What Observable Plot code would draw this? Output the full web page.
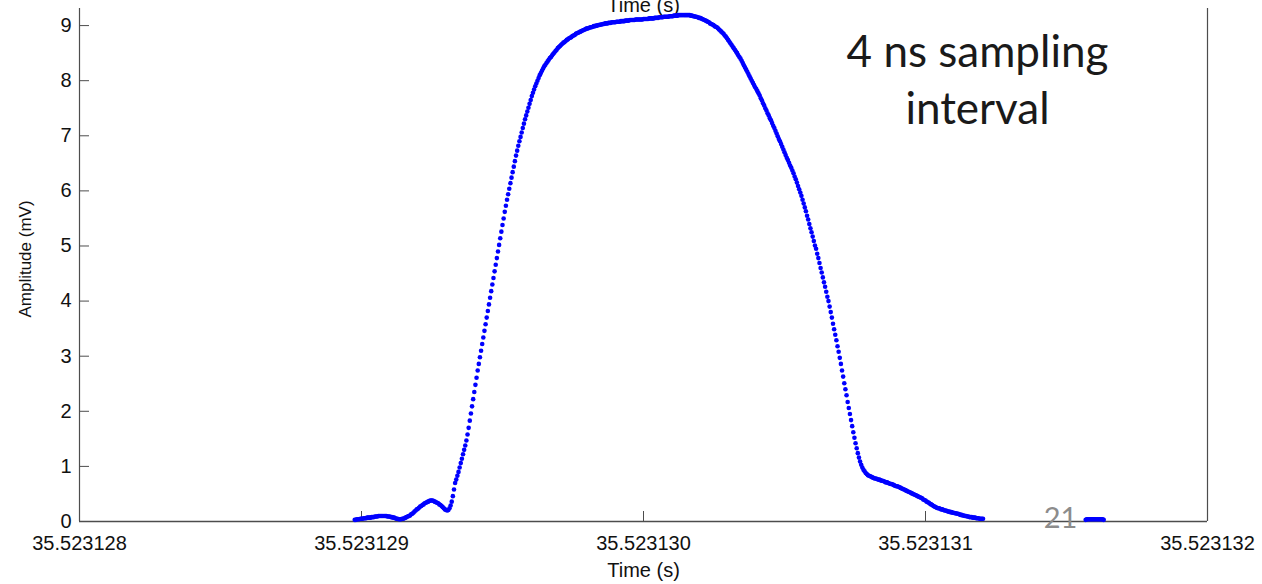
<!DOCTYPE html>
<html>
<head>
<meta charset="utf-8">
<script src="https://cdn.jsdelivr.net/npm/d3@7"></script>
<script src="https://cdn.jsdelivr.net/npm/@observablehq/plot@0.6"></script>
<style>
  html, body { margin: 0; padding: 0; background: #ffffff; }
  #chart { width: 1262px; height: 584px; overflow: hidden; }
</style>
</head>
<body>
<div id="chart"></div>
<script>
// Digitizer record of a single pulse; time is in ns after 35.523128 s.
const sampleIntervalNs = 4;

// Main pulse, first sample at 976 ns (amplitude in mV)
const pulseStartNs = 976;
const pulseAmplitude = [
  0.03,0.03,0.04,0.04,0.04,0.05,0.05,0.05,0.06,0.06,0.06,0.07,0.07,0.07,0.07,
  0.08,0.08,0.08,0.09,0.09,0.09,0.10,0.10,0.10,0.10,0.10,0.10,
  0.10,0.10,0.09,0.09,0.09,0.08,0.08,0.07,0.07,0.06,0.05,0.05,0.04,0.04,0.04,
  0.05,0.05,0.06,0.07,0.08,0.09,0.10,0.11,
  0.13,0.14,0.16,0.18,0.20,0.22,0.23,0.25,0.27,
  0.28,0.30,0.31,0.33,0.34,0.35,0.36,0.37,0.38,0.38,
  0.38,0.37,0.36,0.35,0.34,0.33,0.31,0.30,0.28,0.26,0.24,0.22,0.21,0.20,
  0.21,0.24,0.29,0.36,0.46,0.58,
  0.70,0.76,0.83,0.90,0.98,1.06,1.14,1.22,1.30,1.38,1.47,
  1.58,1.70,1.83,1.96,2.09,2.22,2.35,2.48,2.61,2.74,2.86,2.98,3.10,3.22,3.34,3.46,3.58,3.70,
  3.82,3.94,4.06,4.18,4.30,4.42,4.54,4.66,4.78,4.90,5.02,5.14,5.26,5.38,5.50,5.62,5.73,
  5.84,5.94,6.04,6.14,6.24,6.34,6.44,6.54,6.64,6.73,
  6.82,6.90,6.98,7.06,7.14,7.22,7.30,7.37,7.44,7.51,7.58,7.65,7.72,7.78,
  7.84,7.90,7.95,8.00,8.05,8.10,8.14,8.18,8.22,8.26,8.29,8.32,8.35,8.38,8.41,
  8.43,8.46,8.49,8.51,8.54,8.56,8.59,8.61,8.63,8.65,8.67,8.69,8.70,8.72,8.74,8.75,8.77,8.78,
  8.79,8.81,8.82,8.83,8.85,8.86,8.87,8.88,8.89,8.90,8.91,8.92,8.93,8.94,8.95,8.95,8.96,8.97,
  8.97,8.98,8.99,8.99,9.00,9.00,9.01,9.01,9.02,9.02,9.03,9.03,9.04,9.04,9.04,9.05,9.05,9.05,9.06,9.06,9.06,9.06,9.07,9.07,
  9.07,9.07,9.08,9.08,9.08,9.08,9.09,9.09,9.09,9.09,9.10,9.10,9.10,9.10,9.10,9.11,9.11,9.11,9.11,9.11,
  9.11,9.11,9.12,9.12,9.12,9.12,9.12,9.13,9.13,9.13,9.13,9.13,9.14,9.14,9.14,9.14,9.15,9.15,9.15,9.15,9.16,9.16,9.16,9.16,9.16,9.17,9.17,
  9.17,9.17,9.18,9.18,9.18,9.18,9.19,9.19,9.19,9.19,9.19,9.19,9.19,9.19,9.19,9.19,9.19,9.18,
  9.18,9.17,9.17,9.16,9.16,9.15,9.14,9.14,9.13,9.12,9.11,9.10,9.09,9.08,9.07,9.06,9.04,9.03,9.02,9.01,8.99,8.98,8.97,
  8.95,8.93,8.91,8.89,8.87,8.85,8.82,8.80,8.77,8.74,8.71,8.68,8.65,8.62,8.59,8.56,8.53,8.50,8.46,8.43,8.40,
  8.36,8.32,8.28,8.24,8.20,8.16,8.12,8.08,8.04,8.00,7.96,7.92,7.88,7.85,7.81,
  7.77,7.73,7.68,7.64,7.59,7.55,7.50,7.46,7.41,7.37,7.32,
  7.28,7.23,7.18,7.14,7.09,7.04,6.99,6.94,6.90,6.85,6.80,6.75,6.70,6.65,6.60,6.56,6.51,6.46,
  6.42,6.37,6.32,6.26,6.21,6.15,6.09,6.03,5.97,
  5.91,5.84,5.77,5.70,5.63,5.55,5.48,5.40,5.32,5.25,5.17,5.09,5.01,
  4.95,4.86,4.78,4.69,4.60,4.52,4.43,4.34,4.26,4.17,4.08,4.00,
  3.90,3.80,3.70,3.59,3.49,3.39,3.29,3.18,3.08,2.97,
  2.86,2.74,2.63,2.51,2.40,2.29,2.17,2.06,1.95,
  1.84,1.73,1.62,1.52,1.42,1.33,1.24,1.16,1.09,1.03,0.98,
  0.94,0.91,0.88,0.86,0.84,0.83,0.82,0.81,0.80,0.79,0.78,0.78,0.77,0.76,0.76,0.75,0.74,0.74,0.73,0.72,0.71,0.71,
  0.70,0.69,0.68,0.68,0.67,0.66,0.65,0.64,0.64,0.63,0.62,0.61,0.60,0.59,0.58,0.57,0.56,0.55,0.54,0.53,0.52,0.51,0.50,0.49,0.48,0.47,0.46,0.45,0.44,
  0.43,0.42,0.40,0.39,0.38,0.36,0.35,0.34,0.32,0.31,0.30,0.28,0.27,0.26,0.25,
  0.24,0.24,0.23,0.22,0.22,0.21,0.20,0.20,0.19,0.18,0.18,0.17,0.17,0.16,
  0.16,0.15,0.15,0.14,0.14,0.13,0.12,0.12,0.11,0.11,0.10,0.10,0.09,
  0.09,0.08,0.08,0.08,0.07,0.07,0.07,0.06,0.06,0.06,0.05,0.05,0.05,0.05
];

// Short trailing segment of the record
const tailStartNs = 3568;
const tailAmplitude = [
  0.03,0.04,0.04,0.04,0.04,0.04,0.04,0.04,0.04,0.04,0.04,0.04,0.04,0.04,0.04,0.04,0.03
];

// Axis ticks
const xTickNs = [0, 1000, 2000, 3000, 4000];
const xTickLabels = ["35.523128", "35.523129", "35.523130", "35.523131", "35.523132"];
const yTicks = [0, 1, 2, 3, 4, 5, 6, 7, 8, 9];

// Build the sample table from the two segments
const samples = [
  ...pulseAmplitude.map((v, i) => ({t: pulseStartNs + i * sampleIntervalNs, mv: v})),
  ...tailAmplitude.map((v, i) => ({t: tailStartNs + i * sampleIntervalNs, mv: v}))
];

const W = 1262, H = 584;
const mL = 79, mR = 55, mT = 8, mB = 63;
const frameW = W - mL - mR;
const frameH = H - mT - mB;
const tickLen = 10;
const axisColor = "#4d4d4d";
const noteFont = "Lato, 'Open Sans', sans-serif";

const chart = Plot.plot({
  width: W,
  height: H,
  marginLeft: mL,
  marginRight: mR,
  marginTop: mT,
  marginBottom: mB,
  style: {
    fontFamily: "'Liberation Sans', Arial, Helvetica, sans-serif",
    background: "#ffffff",
    color: "#111"
  },
  x: {domain: [0, 4000]},
  y: {domain: [0, 9.31]},
  marks: [
    // axis box: left, right and bottom edges
    Plot.ruleX([0, 4000], {stroke: axisColor, strokeWidth: 1.2}),
    Plot.ruleY([0], {stroke: axisColor, strokeWidth: 1.4}),
    // inward tick marks
    Plot.tickY(yTicks, {y: d => d, stroke: axisColor, strokeWidth: 1, insetRight: frameW - tickLen}),
    Plot.tickX(xTickNs, {x: d => d, stroke: axisColor, strokeWidth: 1, insetTop: frameH - tickLen}),
    // tick labels
    Plot.axisY(yTicks, {tickSize: 0, tickPadding: 8, fontSize: 20, label: null, tickFormat: d => String(d)}),
    Plot.axisX(xTickNs, {tickSize: 0, tickPadding: 14, fontSize: 20, label: null,
      tickFormat: (d) => xTickLabels[xTickNs.indexOf(d)]}),
    // axis titles (the upper one belongs to the panel above and runs off the top edge)
    Plot.text(["Amplitude (mV)"], {frameAnchor: "left", textAnchor: "middle", rotate: -90,
      dx: -54, dy: -6, fontSize: 17, fill: "#111"}),
    Plot.text(["Time (s)"], {frameAnchor: "bottom", dy: 55, fontSize: 20, fill: "#111"}),
    Plot.text(["Time (s)"], {frameAnchor: "top", dy: -11, fontSize: 20, fill: "#111"}),
    // samples
    Plot.dot(samples, {x: "t", y: "mv", r: 2.3, fill: "#0000ff", stroke: null}),
    // annotation
    Plot.text(["4 ns sampling"], {frameAnchor: "top-left", dx: 898, dy: 27, fontSize: 44,
      fontFamily: noteFont, fill: "#1a1a1a", textAnchor: "middle"}),
    Plot.text(["interval"], {frameAnchor: "top-left", dx: 898, dy: 84, fontSize: 44,
      fontFamily: noteFont, fill: "#1a1a1a", textAnchor: "middle"}),
    Plot.text(["21"], {frameAnchor: "bottom-left", dx: 981, dy: 6, fontSize: 29,
      fontFamily: noteFont, fill: "#8c8c8c", textAnchor: "middle"})
  ]
});

document.getElementById("chart").appendChild(chart);
</script>
</body>
</html>
